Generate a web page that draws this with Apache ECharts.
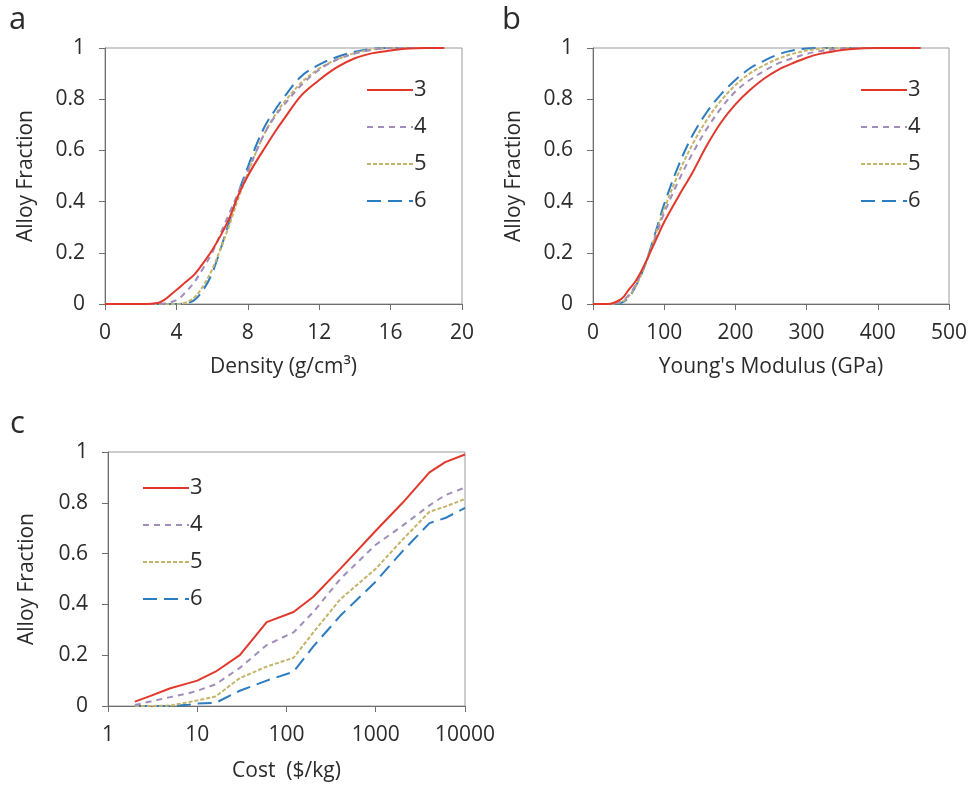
<!DOCTYPE html>
<html>
<head>
<meta charset="utf-8">
<script src="https://cdn.jsdelivr.net/npm/echarts@6/dist/echarts.min.js"></script>
<style>
html,body{margin:0;padding:0;background:#fff;}
#chart{width:971px;height:786px;}
</style>
</head>
<body>
<div id="chart"></div>
<script>
// ---------- data ----------
var seriesNames = ['3', '4', '5', '6'];

// Panel a: Density (g/cm3)
var densityX = [0, 1, 2, 3, 4, 4.5, 5, 5.5, 6, 6.5, 7, 7.5, 8, 8.5, 9, 9.5, 10, 11, 12, 13, 14, 15, 16, 17, 18, 19];
var density3 = [0, 0, 0, 0.005, 0.055, 0.085, 0.115, 0.16, 0.21, 0.27, 0.34, 0.43, 0.5, 0.56, 0.615, 0.67, 0.72, 0.815, 0.875, 0.925, 0.96, 0.98, 0.99, 0.998, 1, 1];
var density4 = [0, 0, 0, 0, 0.015, 0.045, 0.085, 0.14, 0.2, 0.28, 0.36, 0.44, 0.52, 0.6, 0.675, 0.73, 0.775, 0.855, 0.915, 0.955, 0.978, 0.993, 1, 1, 1, 1];
var density5 = [0, 0, 0, 0, 0, 0.005, 0.025, 0.07, 0.135, 0.22, 0.315, 0.42, 0.51, 0.6, 0.675, 0.735, 0.785, 0.865, 0.92, 0.955, 0.98, 0.995, 1, 1, 1, 1];
var density6 = [0, 0, 0, 0, 0, 0.003, 0.015, 0.055, 0.12, 0.22, 0.33, 0.44, 0.535, 0.625, 0.7, 0.755, 0.805, 0.89, 0.935, 0.965, 0.985, 0.997, 1, 1, 1, 1];

// Panel b: Young's Modulus (GPa)
var modulusX = [0, 20, 40, 50, 60, 70, 80, 90, 100, 120, 140, 160, 180, 200, 220, 240, 260, 280, 300, 320, 340, 360, 380, 400, 460];
var modulus3 = [0, 0, 0.02, 0.055, 0.09, 0.14, 0.2, 0.26, 0.32, 0.42, 0.515, 0.62, 0.71, 0.78, 0.835, 0.88, 0.915, 0.94, 0.962, 0.978, 0.988, 0.995, 0.999, 1, 1];
var modulus4 = [0, 0, 0.01, 0.035, 0.075, 0.135, 0.2, 0.28, 0.355, 0.48, 0.59, 0.685, 0.765, 0.83, 0.875, 0.91, 0.94, 0.96, 0.977, 0.988, 0.995, 1, 1, 1, 1];
var modulus5 = [0, 0, 0.008, 0.03, 0.07, 0.13, 0.205, 0.29, 0.37, 0.51, 0.625, 0.72, 0.795, 0.855, 0.9, 0.932, 0.958, 0.977, 0.99, 0.997, 1, 1, 1, 1, 1];
var modulus6 = [0, 0, 0.005, 0.025, 0.07, 0.13, 0.21, 0.3, 0.39, 0.54, 0.66, 0.75, 0.82, 0.875, 0.92, 0.95, 0.975, 0.99, 0.998, 1, 1, 1, 1, 1, 1];

// Panel c: Cost ($/kg)
var costX = [2, 3, 5, 8, 10, 16, 30, 60, 120, 200, 400, 1000, 2000, 4000, 6000, 10000];
var cost3 = [0.017, 0.04, 0.07, 0.09, 0.1, 0.135, 0.2, 0.33, 0.37, 0.43, 0.54, 0.69, 0.8, 0.92, 0.96, 0.99];
var cost4 = [0.004, 0.018, 0.035, 0.05, 0.06, 0.085, 0.15, 0.24, 0.29, 0.37, 0.5, 0.635, 0.71, 0.79, 0.83, 0.86];
var cost5 = [0, 0, 0.002, 0.015, 0.022, 0.037, 0.11, 0.155, 0.19, 0.29, 0.42, 0.54, 0.655, 0.765, 0.785, 0.815];
var cost6 = [0, 0, 0, 0.005, 0.01, 0.012, 0.06, 0.1, 0.135, 0.235, 0.355, 0.49, 0.61, 0.72, 0.74, 0.78];

// ---------- styling ----------
var FONT = '"Open Sans", "Noto Sans", sans-serif';
var TXT = '#2b2b2b';
var colors = ['#e2382c', '#a08dbb', '#c4b46a', '#2c7cc0'];
var dashes = ['solid', [6, 5], [4, 2], [14, 7]];

function pairs(xs, ys) { return xs.map(function (x, i) { return [x, ys[i]]; }); }

var panels = [
  { xs: densityX, ys: [density3, density4, density5, density6], smooth: 0.35 },
  { xs: modulusX, ys: [modulus3, modulus4, modulus5, modulus6], smooth: 0.35 },
  { xs: costX, ys: [cost3, cost4, cost5, cost6], smooth: false }
];

var series = [];
panels.forEach(function (p, pi) {
  p.ys.forEach(function (y, si) {
    series.push({
      name: seriesNames[si],
      type: 'line',
      xAxisIndex: pi,
      yAxisIndex: pi,
      data: pairs(p.xs, y),
      smooth: p.smooth,
      symbol: 'none',
      showSymbol: false,
      z: 10 - si,
      lineStyle: { color: colors[si], width: 2, type: dashes[si] },
      itemStyle: { color: colors[si] },
      animation: false
    });
  });
});

function yAxis(gi) {
  return {
    type: 'value', gridIndex: gi, min: 0, max: 1, interval: 0.2,
    name: 'Alloy Fraction', nameLocation: 'middle', nameGap: gi === 2 ? 70 : 68, nameRotate: 90,
    nameTextStyle: { fontFamily: FONT, fontSize: 21, color: TXT },
    axisLine: { show: true, lineStyle: { color: '#6e6e6e', width: 1 } },
    axisTick: { show: true, inside: false, length: 6, lineStyle: { color: '#6e6e6e' } },
    axisLabel: { fontFamily: FONT, fontSize: 21, color: TXT, margin: 20 },
    splitLine: { show: false }
  };
}
function axisCommon() {
  return {
    nameLocation: 'middle',
    nameTextStyle: { fontFamily: FONT, fontSize: 21, color: TXT },
    axisLine: { show: true, onZero: false, lineStyle: { color: '#6e6e6e', width: 1 } },
    axisTick: { show: true, inside: false, length: 6, lineStyle: { color: '#6e6e6e' } },
    axisLabel: { fontFamily: FONT, fontSize: 21, color: TXT, margin: 19 },
    splitLine: { show: false }
  };
}
var xa = Object.assign(axisCommon(), { type: 'value', gridIndex: 0, min: 0, max: 20, interval: 4, name: 'Density (g/cm³)', nameGap: 53 });
var xb = Object.assign(axisCommon(), { type: 'value', gridIndex: 1, min: 0, max: 500, interval: 100, name: "Young's Modulus (GPa)", nameGap: 53 });
var xc = Object.assign(axisCommon(), { type: 'log', logBase: 10, gridIndex: 2, min: 1, max: 10000, name: 'Cost  ($/kg)', nameGap: 55 });
xc.axisLabel = Object.assign({}, xc.axisLabel, { formatter: function (v) { return String(Math.round(v)); } });

function legend(left, top) {
  return {
    data: seriesNames, orient: 'vertical', left: left, top: top, padding: 0,
    icon: 'inherit',
    itemWidth: 46, itemHeight: 14, itemGap: 15, selectedMode: false,
    itemStyle: { opacity: 0, borderWidth: 0 },
    textStyle: { fontFamily: FONT, fontSize: 22, color: TXT, lineHeight: 22, padding: [0, 0, 0, -4] }
  };
}

var option = {
  backgroundColor: '#ffffff',
  animation: false,
  grid: [
    { left: 105, top: 48, width: 357, height: 256, show: true, borderColor: '#9a9a9a', borderWidth: 1 },
    { left: 593, top: 48, width: 356, height: 256, show: true, borderColor: '#9a9a9a', borderWidth: 1 },
    { left: 108, top: 452, width: 357, height: 254, show: true, borderColor: '#9a9a9a', borderWidth: 1 }
  ],
  xAxis: [xa, xb, xc],
  yAxis: [yAxis(0), yAxis(1), yAxis(2)],
  legend: [legend(366, 79), legend(860, 79), legend(142, 477)],
  graphic: [
    { type: 'text', left: 9, top: 5, style: { text: 'a', font: '31px ' + FONT, fill: TXT } },
    { type: 'text', left: 502, top: 5, style: { text: 'b', font: '31px ' + FONT, fill: TXT } },
    { type: 'text', left: 10, top: 409, style: { text: 'c', font: '31px ' + FONT, fill: TXT } }
  ],
  series: series
};

var chart = echarts.init(document.getElementById('chart'), null, { renderer: 'canvas' });
chart.setOption(option);
</script>
</body>
</html>
